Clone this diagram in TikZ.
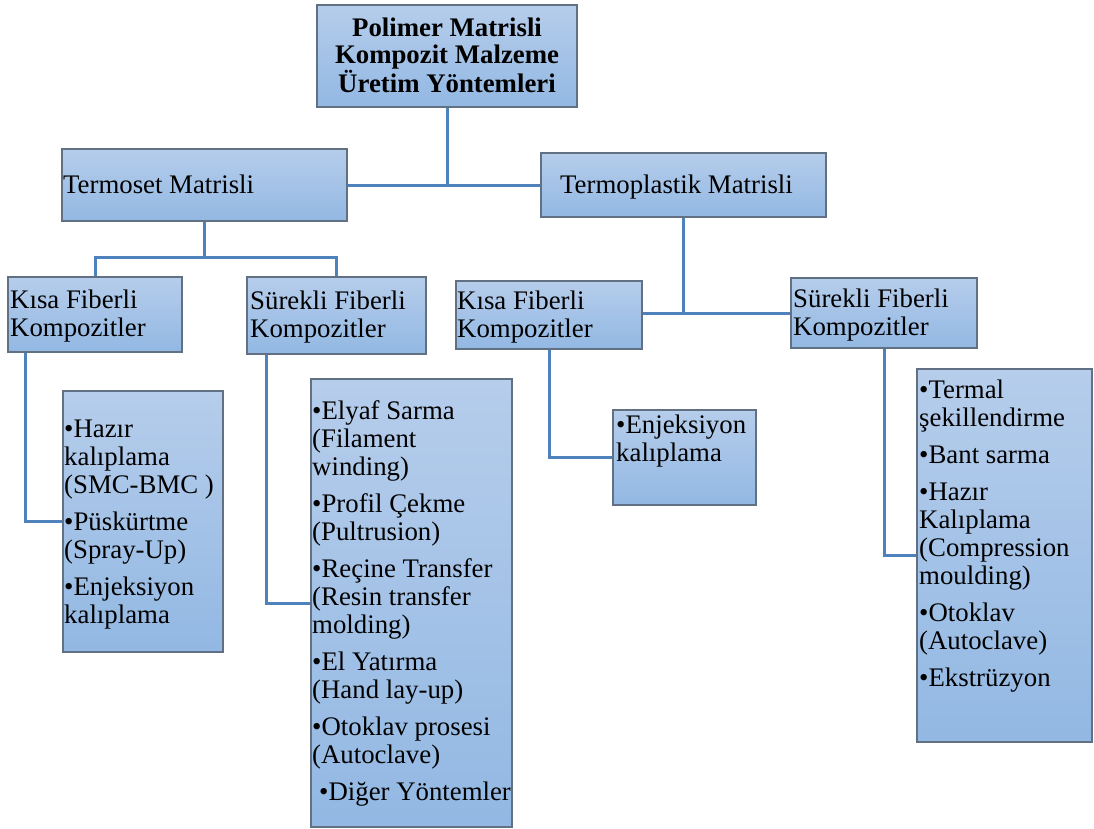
\documentclass[tikz,border=0pt]{standalone}
\usepackage{fontspec}
\setmainfont{Liberation Serif}
\usetikzlibrary{backgrounds}
\definecolor{boxtop}{RGB}{182,205,235}
\definecolor{boxbot}{RGB}{146,184,227}
\definecolor{boxline}{RGB}{98,112,132}
\definecolor{connblue}{RGB}{79,129,189}
\newcommand{\fl}{\rule{0pt}{20pt}}
\begin{document}
\begin{tikzpicture}[x=1pt,y=-1pt,
  box/.style={draw=boxline, line width=1.3pt, top color=boxtop, bottom color=boxbot, inner sep=0pt, outer sep=0pt},
  txt/.style={inner sep=0pt, anchor=north west, align=left, font=\fontsize{26.8}{28}\selectfont},
  conn/.style={draw=connblue, line width=3pt}]
\useasboundingbox (0,0) rectangle (1094,828);

% boxes
\node[box, minimum width=260pt, minimum height=102pt] (top) at (447,56) {};
\node[box, minimum width=285pt, minimum height=72pt] (tset) at (204.5,185) {};
\node[box, minimum width=285pt, minimum height=64pt] (tplas) at (683.5,185) {};
\node[box, minimum width=174pt, minimum height=75pt] (kisaL) at (95,314.5) {};
\node[box, minimum width=179pt, minimum height=77pt] (surL) at (336.5,315.5) {};
\node[box, minimum width=186pt, minimum height=68pt] (kisaR) at (549,315) {};
\node[box, minimum width=186pt, minimum height=70pt] (surR) at (884,313) {};
\node[box, minimum width=160pt, minimum height=261pt] (l1) at (143,521.5) {};
\node[box, minimum width=201pt, minimum height=448pt] (l2) at (411.5,603) {};
\node[box, minimum width=143pt, minimum height=95pt] (l3) at (684.5,457.5) {};
\node[box, minimum width=175pt, minimum height=373pt] (l4) at (1004.5,555.5) {};

% texts
\node[txt, anchor=north, align=center, font=\fontsize{26.8}{27.5}\selectfont\bfseries] (ttop) at ([yshift=-11pt]top.north)
  {\fl Polimer Matrisli\\Kompozit Malzeme\\Üretim Yöntemleri};
\node[txt] (ttset) at (63,173) {\fl Termoset Matrisli};
\node[txt] (ttplas) at (560,173) {\fl Termoplastik Matrisli};
\node[txt] (tkisaL) at (10,288) {\fl Kısa Fiberli\\Kompozitler};
\node[txt] (tsurL) at (250,289) {\fl Sürekli Fiberli\\Kompozitler};
\node[txt] (tkisaR) at (457,289) {\fl Kısa Fiberli\\Kompozitler};
\node[txt] (tsurR) at (793,287) {\fl Sürekli Fiberli\\Kompozitler};
\node[txt] (tl1) at ([shift={(1,26)}]l1.north west)
  {\fl•Hazır\\kalıplama\\(SMC-BMC )\\[9pt]•Püskürtme\\(Spray-Up)\\[9pt]•Enjeksiyon\\kalıplama};
\node[txt] (tl2) at ([shift={(1,20)}]l2.north west)
  {\fl•Elyaf Sarma\\(Filament\\winding)\\[9pt]•Profil Çekme\\(Pultrusion)\\[9pt]•Reçine Transfer\\(Resin transfer\\molding)\\[9pt]•El Yatırma\\(Hand lay-up)\\[9pt]•Otoklav prosesi\\(Autoclave)\\[9pt]\hspace*{7pt}•Diğer Yöntemler};
\node[txt] (tl3) at ([shift={(3,3)}]l3.north west)
  {\fl•Enjeksiyon\\kalıplama};
\node[txt] (tl4) at ([shift={(2,9)}]l4.north west)
  {\fl•Termal\\şekillendirme\\[9pt]•Bant sarma\\[9pt]•Hazır\\Kalıplama\\(Compression\\moulding)\\[9pt]•Otoklav\\(Autoclave)\\[9pt]•Ekstrüzyon};

% connectors
\begin{scope}[on background layer]
\coordinate (j1) at (204.5,257);
\coordinate (j2) at (683.5,313);
\draw[conn] (top.south) -- (top.south |- tset.east);
\draw[conn] (tset.east) -- (tplas.west);
\draw[conn] (tset.south) -- (j1);
\draw[conn] (kisaL.north) |- (j1) -| (surL.north);
\draw[conn] (tplas.south) -- (j2);
\draw[conn] (kisaR.east |- j2) -- (surR.west |- j2);
\draw[conn] ([xshift=17pt]kisaL.south west) |- (l1.west);
\draw[conn] ([xshift=19pt]surL.south west) |- (l2.west);
\draw[conn] (kisaR.south) |- (l3.west);
\draw[conn] (surR.south) |- (l4.west);
\end{scope}
\end{tikzpicture}
\end{document}
